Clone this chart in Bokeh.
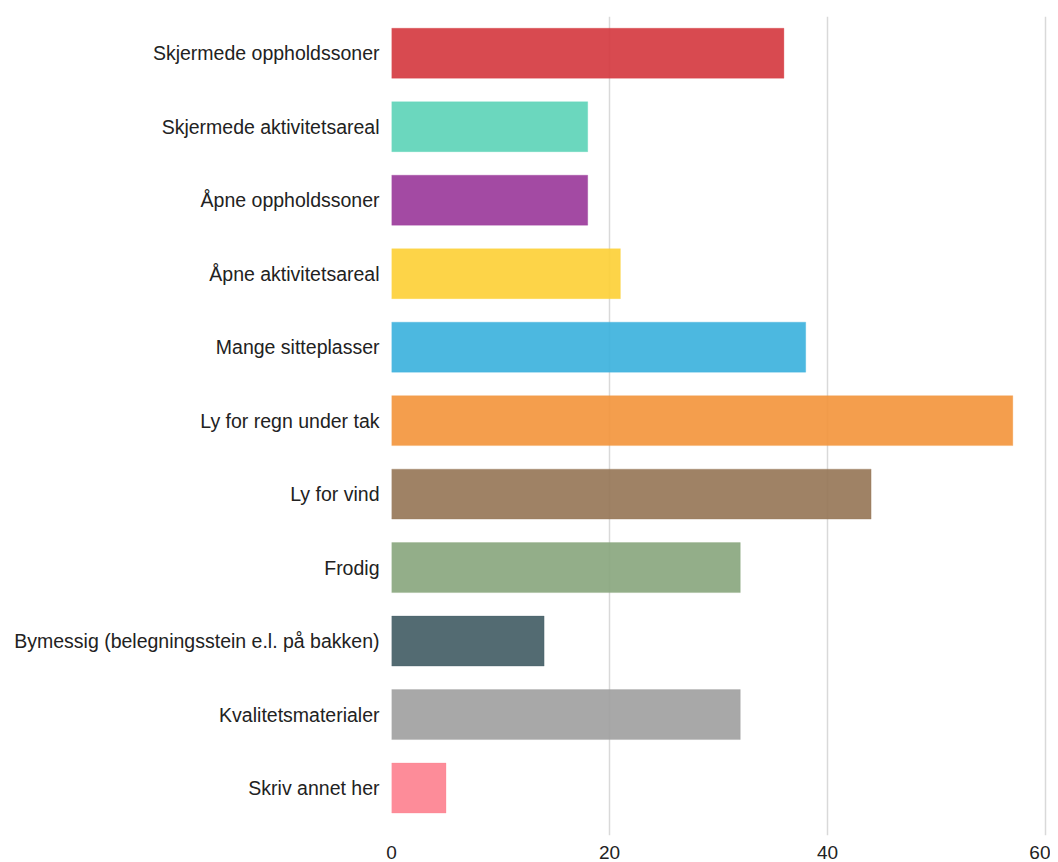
from bokeh.plotting import figure
from bokeh.models import Range1d, FixedTicker, ColumnDataSource
from bokeh.embed import file_html
from bokeh.resources import INLINE

categories = [
    "Skjermede oppholdssoner",
    "Skjermede aktivitetsareal",
    "Åpne oppholdssoner",
    "Åpne aktivitetsareal",
    "Mange sitteplasser",
    "Ly for regn under tak",
    "Ly for vind",
    "Frodig",
    "Bymessig (belegningsstein e.l. på bakken)",
    "Kvalitetsmaterialer",
    "Skriv annet her",
]
values = [36, 18, 18, 21, 38, 57, 44, 32, 14, 32, 5]
colors = ["#d4363d", "#5bd3b7", "#993699", "#fdcf34", "#39b0dd", "#f3943a",
          "#957454", "#87a57c", "#405b63", "#9e9e9e", "#fd808e"]
x_ticks = [0, 20, 40, 60]

pos = list(range(len(categories)))
src = ColumnDataSource(dict(y=pos, v=values, c=colors, name=categories))

p = figure(width=1050, height=862, output_backend="svg", toolbar_location=None,
           x_range=Range1d(0, 60.46), y_range=Range1d(10.646, -0.5),
           min_border_left=391, min_border_right=0, min_border_top=16, min_border_bottom=27)
p.outline_line_color = None
p.background_fill_color = "white"

p.hbar(y="y", right="v", left=0, height=0.68, fill_color="c", fill_alpha=0.9,
       line_color="c", line_alpha=0.3, line_width=1, source=src)

p.xgrid.ticker = FixedTicker(ticks=x_ticks)
p.xgrid.grid_line_color = "#d9d9d9"
p.xgrid.grid_line_width = 1.5
p.ygrid.grid_line_color = None

p.xaxis.ticker = FixedTicker(ticks=x_ticks)
p.xaxis.axis_line_color = None
p.xaxis.major_tick_line_color = None
p.xaxis.minor_tick_line_color = None
p.xaxis.major_label_text_font = "Liberation Sans"
p.xaxis.major_label_text_font_size = "19px"
p.xaxis.major_label_text_color = "#222222"
p.xaxis.major_label_standoff = 4

p.yaxis.ticker = FixedTicker(ticks=pos)
p.yaxis.major_label_overrides = {i: c for i, c in enumerate(categories)}
p.yaxis.axis_line_color = None
p.yaxis.major_tick_line_color = None
p.yaxis.minor_tick_line_color = None
p.yaxis.major_label_text_font = "Liberation Sans"
p.yaxis.major_label_text_font_size = "19.5px"
p.yaxis.major_label_text_color = "#222222"
p.yaxis.major_label_standoff = 6

open("out.html", "w").write(file_html(p, INLINE))
